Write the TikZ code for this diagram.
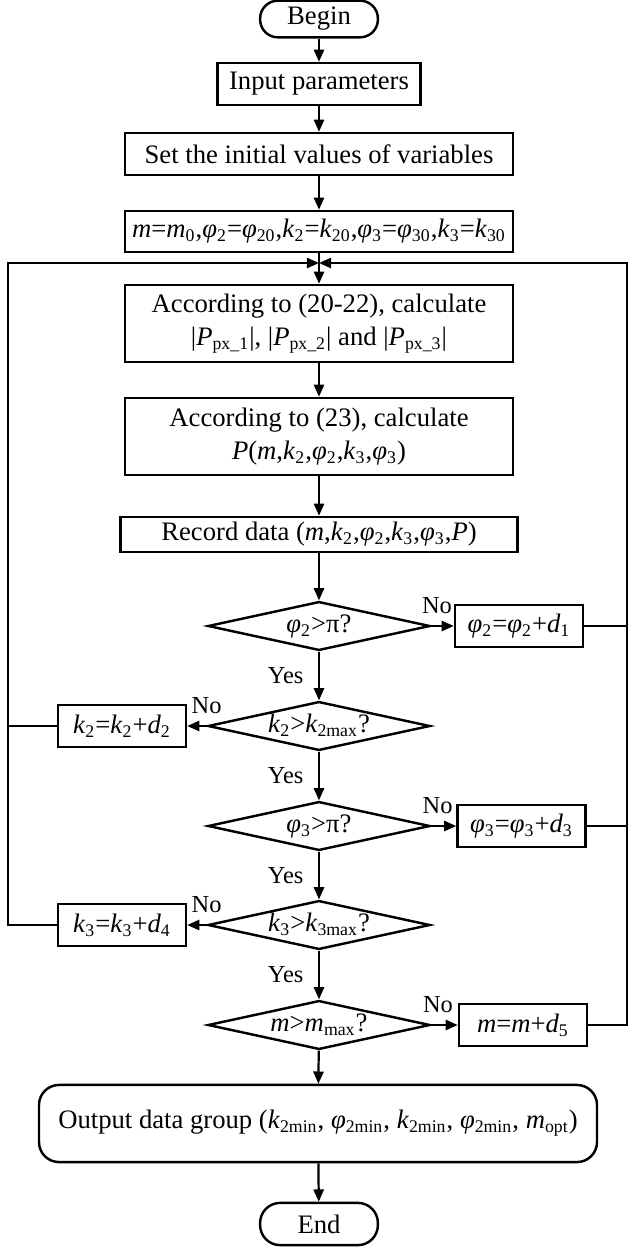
\documentclass[tikz,border=0pt]{standalone}
\usepackage{fontspec}
\setmainfont{Liberation Serif}
\usetikzlibrary{arrows.meta,shapes.geometric}
\newcommand{\iv}[1]{\textit{#1}}
\newcommand{\lo}[1]{\textsubscript{#1}}
\tikzset{
  box/.style={draw,line width=1.1pt,align=center,inner sep=1pt,font=\fontsize{12}{15}\selectfont},
  wide/.style={box,minimum width=174.6pt},
  sm/.style={box,minimum width=57.6pt,minimum height=18.9pt},
  term/.style={box,rounded corners=8pt,minimum width=53pt,minimum height=16.5pt},
  dec/.style={box,diamond,aspect=4.5,inner sep=0pt,text height=1.6ex,text depth=.4ex,minimum width=100pt,minimum height=22pt},
  ar/.style={-{Triangle[length=5.5pt,width=4.6pt]},line width=1pt},
  ln/.style={line width=1pt},
  lbl/.style={font=\fontsize{11}{12}\selectfont,inner sep=1.5pt},
}
\begin{document}
\begin{tikzpicture}[x=0.45pt,y=-0.45pt]
  \useasboundingbox (0,0) rectangle (628,1249);
  \node[term] (bgn) at (319,19) {Begin};
  \node[box,minimum width=91.4pt,minimum height=18.9pt] (inp) at (319,84) {Input parameters};
  \node[wide,minimum height=18.9pt] (init) at (319,154) {Set the initial values of variables};
  \node[wide,minimum height=18.5pt] (setv) at (319,231.5) {\iv{m}=\iv{m}\lo{0},\iv{φ}\lo{2}=\iv{φ}\lo{20},\iv{k}\lo{2}=\iv{k}\lo{20},\iv{φ}\lo{3}=\iv{φ}\lo{30},\iv{k}\lo{3}=\iv{k}\lo{30}};
  \coordinate (j) at (319,263);
  \node[wide,minimum height=34.7pt] (calc1) at (319,323.5) {According to (20-22), calculate\\|\iv{P}\lo{px\_1}|, |\iv{P}\lo{px\_2}| and |\iv{P}\lo{px\_3}|};
  \node[wide,minimum height=34.7pt] (calc2) at (319,436.5) {According to (23), calculate\\\iv{P}(\iv{m},\iv{k}\lo{2},\iv{φ}\lo{2},\iv{k}\lo{3},\iv{φ}\lo{3})};
  \node[box,minimum width=178.7pt,minimum height=15.8pt] (rec) at (319,534.5) {Record data (\iv{m},\iv{k}\lo{2},\iv{φ}\lo{2},\iv{k}\lo{3},\iv{φ}\lo{3},\iv{P})};
  % decisions
  \node[dec] (q1) at (319,626) {\iv{φ}\lo{2}>π?};
  \node[dec] (q2) at (319,726) {\iv{k}\lo{2}>\iv{k}\lo{2max}?};
  \node[dec] (q3) at (319,826) {\iv{φ}\lo{3}>π?};
  \node[dec] (q4) at (319,925) {\iv{k}\lo{3}>\iv{k}\lo{3max}?};
  \node[dec] (q5) at (319,1025) {\iv{m}>\iv{m}\lo{max}?};
  % steps
  \node[sm] (u1) at (519,626) {\iv{φ}\lo{2}=\iv{φ}\lo{2}+\iv{d}\lo{1}};
  \node[sm] (u2) at (122,726) {\iv{k}\lo{2}=\iv{k}\lo{2}+\iv{d}\lo{2}};
  \node[sm] (u3) at (521.5,826) {\iv{φ}\lo{3}=\iv{φ}\lo{3}+\iv{d}\lo{3}};
  \node[sm] (u4) at (122,925) {\iv{k}\lo{3}=\iv{k}\lo{3}+\iv{d}\lo{4}};
  \node[sm] (u5) at (523,1025) {\iv{m}=\iv{m}+\iv{d}\lo{5}};
  \node[box,rounded corners=9pt,minimum width=251.1pt,minimum height=34.7pt] (out) at (318,1123.5) {Output data group (\iv{k}\lo{2min}, \iv{φ}\lo{2min}, \iv{k}\lo{2min}, \iv{φ}\lo{2min}, \iv{m}\lo{opt})};
  \node[term,rounded corners=9pt,minimum height=19pt] (fin) at (319,1224) {End};
  \coordinate (lft) at (8,263);
  \coordinate (rgt) at (627,263);
  % main flow
  \draw[ar] (bgn) -- (inp);
  \draw[ar] (inp) -- (init);
  \draw[ar] (init) -- (setv);
  \draw[ar] (setv) -- (calc1);
  \draw[ar] (calc1) -- (calc2);
  \draw[ar] (calc2) -- (rec);
  \draw[ar] (rec) -- (q1);
  \foreach \a/\b in {q1/q2,q2/q3,q3/q4,q4/q5}
    \draw[ar] (\a) -- node[lbl,left=5pt]{Yes} (\b);
  \foreach \a/\b in {q1/u1,q3/u3,q5/u5}
    \draw[ar] (\a.east) -- node[lbl,above=3.5pt,pos=.25]{No} (\b);
  \foreach \a/\b in {q2/u2,q4/u4}
    \draw[ar] (\a.west) -- node[lbl,above=3.5pt,pos=0]{No} (\b);
  \draw[ar] (q5) -- (out);
  \draw[ar] (out) -- (fin);
  % loops back
  \draw[ln] (u2.west) -- (u2.west -| lft);
  \draw[ar] (u4.west) -- (u4.west -| lft) -- (lft) -- (j);
  \draw[ln] (u1.east) -- (u1.east -| rgt);
  \draw[ln] (u3.east) -- (u3.east -| rgt);
  \draw[ar] (u5.east) -- (u5.east -| rgt) -- (rgt) -- (j);
\end{tikzpicture}
\end{document}
